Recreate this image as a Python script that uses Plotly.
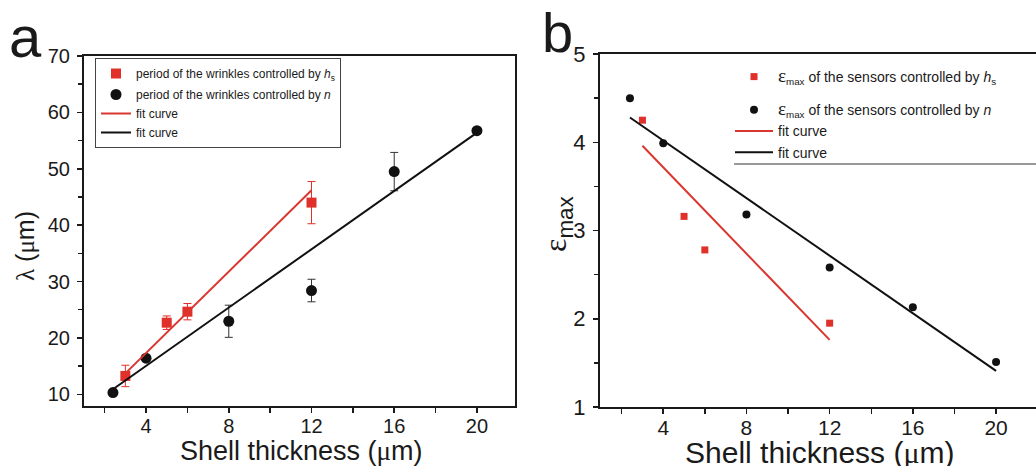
import plotly.graph_objects as go

# ---------------- data: panel a ----------------
thickness_hs = [3, 5, 6, 12]
lambda_hs = [13.25, 22.7, 24.65, 44.0]
lambda_hs_err = [1.9, 1.2, 1.45, 3.75]

thickness_n = [2.4, 4, 8, 12, 16, 20]
lambda_n = [10.3, 16.4, 22.95, 28.4, 49.5, 56.75]
lambda_n_err = [0, 0, 2.85, 2.0, 3.4, 0]

fit_hs_x = [3, 12]
fit_a_hs_y = [13.7, 46.2]
fit_n_x = [2.4, 20]
fit_a_n_y = [10.9, 56.4]

# ---------------- data: panel b ----------------
eps_hs = [4.25, 3.16, 2.78, 1.95]
eps_n = [4.50, 3.99, 3.18, 2.58, 2.13, 1.51]
fit_b_hs_y = [3.96, 1.76]
fit_b_n_y = [4.28, 1.41]

x_tickvals = [4, 8, 12, 16, 20]
ya_tickvals = [10, 20, 30, 40, 50, 60, 70]
yb_tickvals = [1, 2, 3, 4, 5]

RED = "#e0302a"
REDLINE = "#d9362f"
BLACK = "#111111"
SANS = "Liberation Sans, Arial, sans-serif"
SERIF = "Liberation Serif, Times New Roman, serif"

W, H = 1036, 466

fig = go.Figure()

# panel a traces
fig.add_trace(go.Scatter(
    x=thickness_hs, y=lambda_hs, mode="markers", xaxis="x", yaxis="y",
    marker=dict(symbol="square", size=10, color=RED),
    error_y=dict(type="data", array=lambda_hs_err, color=RED, thickness=1, width=4),
    name="period of the wrinkles controlled by <i>h</i><sub>s</sub>",
    legend="legend", legendgroup="a1"))
fig.add_trace(go.Scatter(
    x=thickness_n, y=lambda_n, mode="markers", xaxis="x", yaxis="y",
    marker=dict(symbol="circle", size=11, color=BLACK),
    error_y=dict(type="data", array=lambda_n_err, color="#333333", thickness=1, width=4),
    name="period of the wrinkles controlled by <i>n</i>",
    legend="legend", legendgroup="a2"))
fig.add_trace(go.Scatter(
    x=fit_hs_x, y=fit_a_hs_y, mode="lines", xaxis="x", yaxis="y",
    line=dict(color=REDLINE, width=2), name="fit curve",
    legend="legend", legendgroup="a2"))
fig.add_trace(go.Scatter(
    x=fit_n_x, y=fit_a_n_y, mode="lines", xaxis="x", yaxis="y",
    line=dict(color=BLACK, width=2), name="fit curve",
    legend="legend", legendgroup="a2"))

# panel b traces
eps = f"<span style='font-family:{SERIF};font-size:19px'>ε</span><sub>max</sub>"
fig.add_trace(go.Scatter(
    x=thickness_hs, y=eps_hs, mode="markers", xaxis="x2", yaxis="y2",
    marker=dict(symbol="square", size=7, color=RED),
    name=eps + " of the sensors controlled by <i>h</i><sub>s</sub>",
    legend="legend2", legendgroup="b1"))
fig.add_trace(go.Scatter(
    x=thickness_n, y=eps_n, mode="markers", xaxis="x2", yaxis="y2",
    marker=dict(symbol="circle", size=8, color=BLACK),
    name=eps + " of the sensors controlled by <i>n</i>",
    legend="legend2", legendgroup="b2"))
fig.add_trace(go.Scatter(
    x=fit_hs_x, y=fit_b_hs_y, mode="lines", xaxis="x2", yaxis="y2",
    line=dict(color=REDLINE, width=2), name="fit curve",
    legend="legend2", legendgroup="b2"))
fig.add_trace(go.Scatter(
    x=fit_n_x, y=fit_b_n_y, mode="lines", xaxis="x2", yaxis="y2",
    line=dict(color=BLACK, width=2), name="fit curve",
    legend="legend2", legendgroup="b2"))

axis_common = dict(
    showgrid=False, zeroline=False, showline=True, linecolor="#1a1a1a",
    linewidth=2, ticks="outside", ticklen=5, tickwidth=1.5, tickcolor="#1a1a1a",
    automargin=False,
)

def px2x(p):
    return p / W

def px2y(p):
    return 1 - p / H

fig.update_layout(
    width=W, height=H,
    margin=dict(l=0, r=0, t=0, b=0, autoexpand=False),
    paper_bgcolor="white", plot_bgcolor="white",
    font=dict(family=SANS, color="#1a1a1a"),
    xaxis=dict(axis_common, domain=[px2x(84), px2x(515)], range=[1.0, 21.84],
               tickvals=x_tickvals, mirror=True, anchor="y", ticklabelstandoff=-4,
               minor=dict(dtick=2, tick0=0, ticks="outside", ticklen=5, tickcolor="#1a1a1a"),
               tickfont=dict(size=20)),
    yaxis=dict(axis_common, domain=[px2y(406), px2y(56)], range=[7.92, 70],
               tickvals=ya_tickvals, mirror=True, anchor="x", ticklabelstandoff=3,
               minor=dict(dtick=5, tick0=0, ticks="outside", ticklen=4, tickcolor="#1a1a1a"),
               tickfont=dict(size=20)),
    xaxis2=dict(axis_common, domain=[px2x(600), 1.0], range=[0.96, 21.92],
                tickvals=x_tickvals, mirror=True, anchor="y2", ticklabelstandoff=-4,
                minor=dict(dtick=2, tick0=0, ticks="outside", ticklen=5, tickcolor="#1a1a1a"),
                tickfont=dict(size=21)),
    yaxis2=dict(axis_common, domain=[px2y(407), px2y(54)], range=[1, 5],
                tickvals=yb_tickvals, mirror=False, anchor="x2", ticklabelstandoff=3,
                minor=dict(dtick=0.5, tick0=0, ticks="outside", ticklen=4, tickcolor="#1a1a1a"),
                tickfont=dict(size=22)),
    legend=dict(x=px2x(95), y=px2y(58), xanchor="left", yanchor="top",
                bgcolor="white", bordercolor="#444444", borderwidth=1,
                font=dict(size=12, family=SANS), traceorder="grouped",
                tracegroupgap=2),
    legend2=dict(x=px2x(730), y=px2y(61), xanchor="left", yanchor="top",
                 bgcolor="rgba(0,0,0,0)", borderwidth=0, itemwidth=38,
                 font=dict(size=14, family=SANS), traceorder="grouped",
                 tracegroupgap=12),
    showlegend=True,
)

annotations = [
    dict(text="a", x=px2x(25), y=px2y(36), font=dict(size=58, family=SANS)),
    dict(text="b", x=px2x(557), y=px2y(32), font=dict(size=56, family=SANS)),
    dict(text="Shell thickness (<span style='font-family:%s'>μ</span>m)" % SERIF,
         x=px2x(301), y=px2y(451), font=dict(size=27, family=SANS)),
    dict(text="Shell thickness (<span style='font-family:%s'>μ</span>m)" % SERIF,
         x=px2x(820), y=px2y(452), font=dict(size=30, family=SANS)),
    dict(text="<span style='font-family:%s'>λ</span> (<span style='font-family:%s'>μ</span>m)" % (SERIF, SERIF),
         x=px2x(25), y=px2y(246), textangle=-90, font=dict(size=25, family=SANS)),
    dict(text=f"<span style='font-family:{SERIF}'>ε</span><sub>max</sub>",
         x=px2x(558), y=px2y(224), textangle=-90, font=dict(size=32, family=SANS)),
]
for a in annotations:
    a.update(xref="paper", yref="paper", showarrow=False, xanchor="center", yanchor="middle")
fig.update_layout(annotations=annotations)

# legend underline in panel b
fig.add_shape(type="line", xref="paper", yref="paper",
              x0=px2x(734), x1=1.0, y0=px2y(164), y1=px2y(164),
              line=dict(color="#333333", width=1))

fig.write_html("out.html",
               config={"displayModeBar": False, "staticPlot": True},
               post_script="document.body.style.margin='0';document.body.style.overflow='hidden';")
